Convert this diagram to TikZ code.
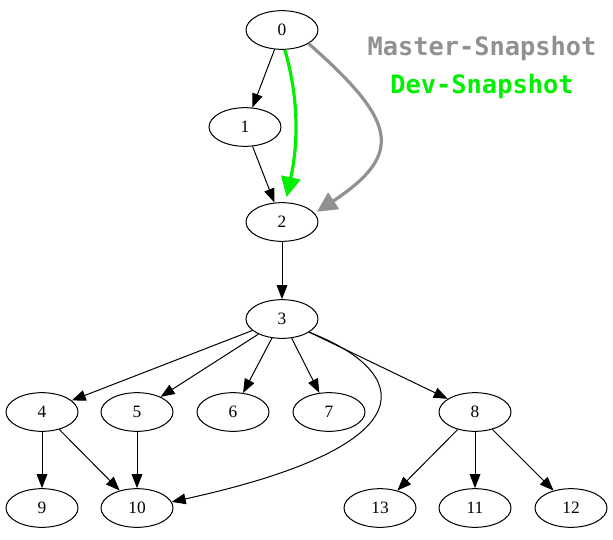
\documentclass[tikz,border=0pt]{standalone}
\usepackage{fontspec}
\setmainfont{Liberation Serif}
\newfontfamily\snapfont{DejaVu Sans Mono}
\usepackage{tikz}
\usetikzlibrary{shapes.geometric, arrows.meta}
\definecolor{mastergray}{RGB}{145,145,145}
\definecolor{devgreen}{RGB}{0,240,0}
\tikzset{
    commit_node/.style={ellipse, draw, line width=0.75pt, minimum width=54pt, minimum height=29pt, inner sep=0pt, font=\fontsize{13}{15}\selectfont},
    snap_label/.style={anchor=base, font=\snapfont\bfseries\fontsize{19}{22}\selectfont},
    arrow/.style={-{Triangle[length=10.5pt, width=8pt]}, line width=0.75pt},
    arrow_master/.style={-{Triangle[length=15pt, width=14.5pt]}, line width=2.4pt, mastergray},
    arrow_dev/.style={-{Triangle[length=15pt, width=14.5pt]}, line width=2.4pt, devgreen}
}
\begin{document}
\begin{tikzpicture}[x=0.75pt, y=-0.75pt]
            \useasboundingbox (0,0) rectangle (613,539);

            % Commits
            \node (n0) [commit_node] at (282, 30) {0};
            \node (n1) [commit_node] at (245, 127) {1};
            \node (n2) [commit_node] at (282, 222) {2};
            \node (n3) [commit_node] at (282, 319) {3};
            \node (n4) [commit_node] at (42, 412) {4};
            \node (n5) [commit_node] at (137, 412) {5};
            \node (n6) [commit_node] at (233, 412) {6};
            \node (n7) [commit_node] at (329, 412) {7};
            \node (n8) [commit_node] at (475, 412) {8};
            \node (n9) [commit_node] at (42, 508) {9};
            \node (n10) [commit_node] at (137, 508) {10};
            \node (n13) [commit_node] at (380, 508) {13};
            \node (n11) [commit_node] at (475, 508) {11};
            \node (n12) [commit_node] at (571, 508) {12};

            % Snapshot labels
            \node (master) [snap_label, text=mastergray] at (482, 55) {Master-Snapshot};
            \node (dev) [snap_label, text=devgreen] at (482, 93) {Dev-Snapshot};

            % History
            \draw [arrow] (n0) -- (n1);
            \draw [arrow] (n1) -- (n2);
            \draw [arrow] (n2) -- (n3);
            \draw [arrow] (n3) -- (n4);
            \draw [arrow] (n3) -- (n5);
            \draw [arrow] (n3) -- (n6);
            \draw [arrow] (n3) -- (n7);
            \draw [arrow] (n3) -- (n8);
            \draw [arrow] (n3.-26) .. controls (412, 372) and (432, 445) .. (n10.10);
            \draw [arrow] (n4) -- (n9);
            \draw [arrow] (n4) -- (n10);
            \draw [arrow] (n5) -- (n10);
            \draw [arrow] (n8) -- (n13);
            \draw [arrow] (n8) -- (n11);
            \draw [arrow] (n8) -- (n12);

            % Snapshot pointers
            \draw [arrow_dev, shorten >=4pt] (n0.-82) .. controls (298, 95) and (299, 140) .. (n2.80);
            \draw [arrow_master, shorten >=2pt] (n0.-27) .. controls (395, 120) and (406, 153) .. (n2.15);
\end{tikzpicture}
\end{document}
